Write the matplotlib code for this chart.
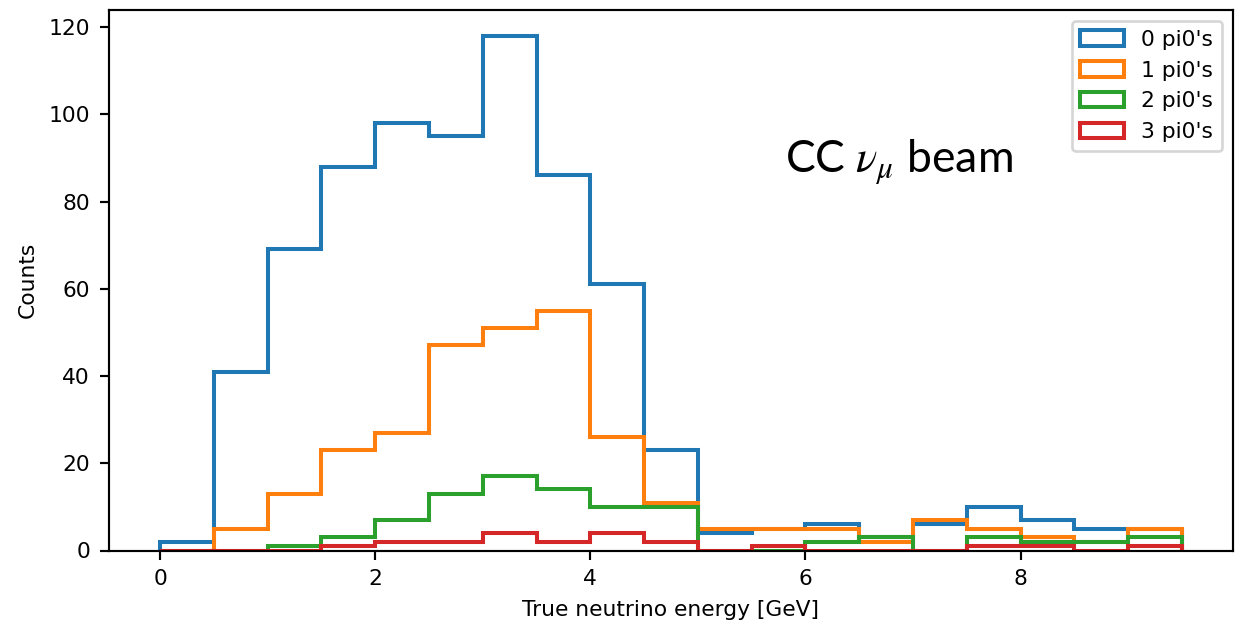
import numpy as np
import matplotlib
matplotlib.use('Agg')
import matplotlib.pyplot as plt

# bin edges in GeV
edges = np.arange(0, 10.0, 0.5)
centers = edges[:-1] + 0.25

counts_0 = [2, 41, 69, 88, 98, 95, 118, 86, 61, 23, 4, 5, 6, 3, 6, 10, 7, 5, 5]
counts_1 = [0, 5, 13, 23, 27, 47, 51, 55, 26, 11, 5, 5, 5, 2, 7, 5, 3, 2, 5]
counts_2 = [0, 0, 1, 3, 7, 13, 17, 14, 10, 10, 0, 0, 2, 3, 0, 3, 2, 2, 3]
counts_3 = [0, 0, 0, 1, 2, 2, 4, 2, 4, 2, 0, 1, 0, 0, 0, 1, 1, 0, 1]

labels = ["0 pi0's", "1 pi0's", "2 pi0's", "3 pi0's"]

plt.rcParams['font.size'] = 8.1
plt.rcParams['mathtext.fontset'] = 'stix'

dpi = 194
fig = plt.figure(figsize=(1243 / dpi, 620 / dpi), dpi=dpi)
ax = fig.add_axes([109 / 1243, 1 - 550.5 / 620, (1233 - 109) / 1243, (550.5 - 10) / 620])

for c, lab in zip([counts_0, counts_1, counts_2, counts_3], labels):
    ax.hist(centers, bins=edges, weights=c, histtype='step', linewidth=1.5, label=lab)

ax.set_xlabel('True neutrino energy [GeV]')
ax.set_ylabel('Counts')
ax.legend(loc='upper right')

fig.text(785 / 1243, 1 - 172 / 620, r'CC $\nu_\mu$ beam', fontsize=16.5,
         family='Lato', va='baseline', ha='left')

fig.savefig('out.png', dpi=dpi)
